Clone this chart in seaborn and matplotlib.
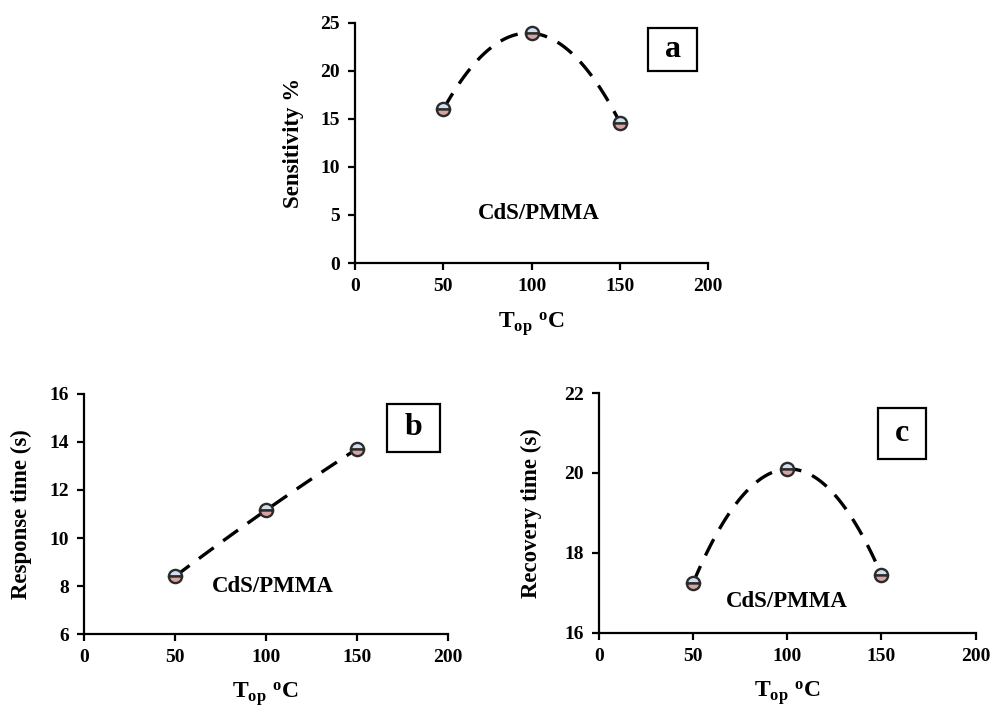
import numpy as np
import matplotlib
matplotlib.use("Agg")
import matplotlib.pyplot as plt
from matplotlib.patches import Rectangle
import seaborn as sns

# operating temperature (°C)
t_op = [50, 100, 150]
sensitivity = [16.0, 23.9, 14.6]
response_time = [8.4, 11.15, 13.7]
recovery_time = [17.25, 20.1, 17.45]

x_ticks = [0, 50, 100, 150, 200]
sens_ticks = [0, 5, 10, 15, 20, 25]
resp_ticks = [6, 8, 10, 12, 14, 16]
rec_ticks = [16, 18, 20, 22]

sns.set_theme(style="ticks")
plt.rcParams["font.family"] = ["Liberation Serif", "DejaVu Serif"]
plt.rcParams["font.weight"] = "bold"
plt.rcParams["text.color"] = "black"
plt.rcParams["axes.labelcolor"] = "black"
plt.rcParams["mathtext.fontset"] = "custom"
plt.rcParams["mathtext.rm"] = "Liberation Serif:bold"
plt.rcParams["mathtext.bf"] = "Liberation Serif:bold"
plt.rcParams["mathtext.it"] = "Liberation Serif:bold"

fig = plt.figure(figsize=(9.92, 7.07), dpi=100)
ax_a = fig.add_axes([0.358, 0.628, 0.356, 0.340])
ax_b = fig.add_axes([0.0847, 0.103, 0.3665, 0.340])
ax_c = fig.add_axes([0.6038, 0.105, 0.3797, 0.339])

panels = [
    (ax_a, sensitivity, sens_ticks, "Sensitivity %", "a",
     (0.830, 0.798, 0.139, 0.179), (104, 5.1), 12, 11),
    (ax_b, response_time, resp_ticks, "Response time (s)", "b",
     (0.833, 0.759, 0.146, 0.199), (104, 7.98), 12, 10),
    (ax_c, recovery_time, rec_ticks, "Recovery time (s)", "c",
     (0.740, 0.724, 0.128, 0.212), (99.6, 16.78), 16, 10),
]

for ax, vals, yticks, ylab, letter, box, txt_pos, ylpad, xlpad in panels:
    sns.regplot(x=np.array(t_op), y=np.array(vals), order=2, ci=None,
                scatter=False, ax=ax,
                line_kws=dict(color="black", lw=2.4, ls=(0, (5.5, 3.5)),
                              dash_capstyle="butt"))
    sns.lineplot(x=t_op, y=vals, ax=ax, linestyle="none", marker="o",
                 markersize=9.5, fillstyle="top", markerfacecolor="#cfdff0",
                 markerfacecoloralt="#d9a3a3", markeredgecolor="#2b2b2b",
                 markeredgewidth=1.7, zorder=5)
    ax.set_xlim(0, 200)
    ax.set_ylim(yticks[0], yticks[-1])
    ax.set_xticks(x_ticks)
    ax.set_yticks(yticks)
    sns.despine(ax=ax)
    for sp in ["left", "bottom"]:
        ax.spines[sp].set_linewidth(1.6)
        ax.spines[sp].set_color("black")
    ax.tick_params(axis="both", direction="out", length=5, width=1.6,
                   labelsize=14, colors="black", pad=6)
    for lab in ax.get_xticklabels() + ax.get_yticklabels():
        lab.set_fontweight("bold")
    ax.set_xlabel(r"$\mathbf{T_{op}\ ^{o}C}$", fontsize=17, labelpad=xlpad)
    ax.set_ylabel(ylab, fontsize=16.5, fontweight="bold", labelpad=ylpad)
    ax.add_patch(Rectangle((box[0], box[1]), box[2], box[3],
                           transform=ax.transAxes, fill=False,
                           edgecolor="black", lw=1.6, clip_on=False))
    ax.text(box[0] + box[2] / 2, box[1] + box[3] / 2, letter,
            transform=ax.transAxes, ha="center", va="center",
            fontsize=23, fontweight="bold", color="black")
    ax.text(txt_pos[0], txt_pos[1], "CdS/PMMA", ha="center", va="center",
            fontsize=16.5, fontweight="bold", color="black")

fig.savefig("out.png", dpi=100)
